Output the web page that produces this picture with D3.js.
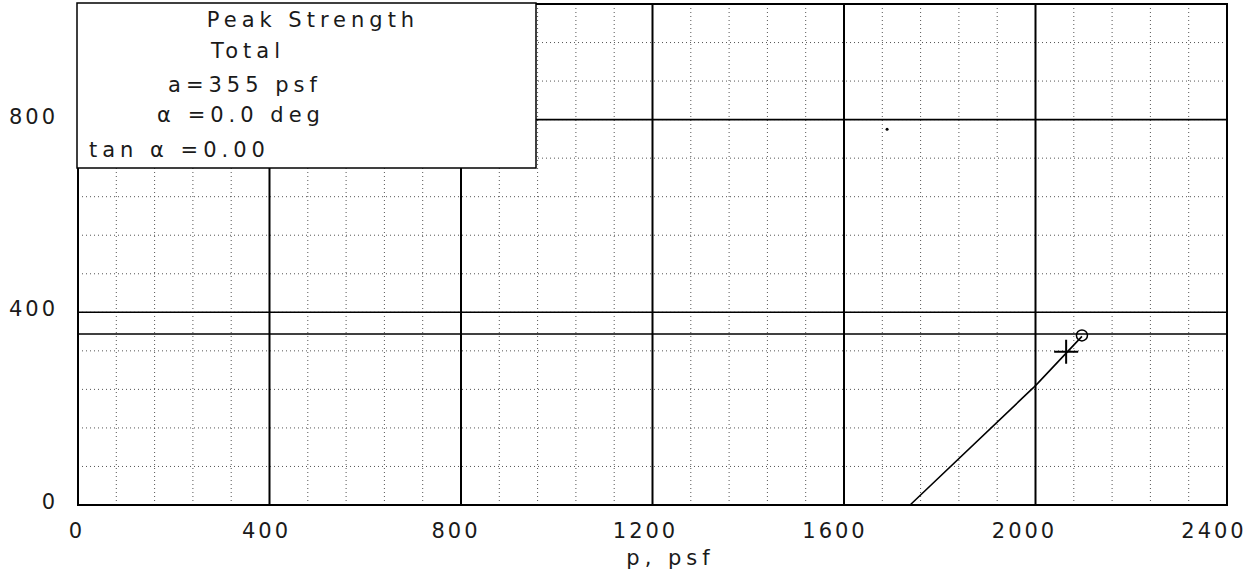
<!DOCTYPE html>
<html>
<head>
<meta charset="utf-8">
<script src="https://cdn.jsdelivr.net/npm/d3@7"></script>
<style>
  body { margin: 0; background: #fff; }
  text { font-family: "DejaVu Sans", sans-serif; fill: #1a1a1a; }
</style>
</head>
<body>
<div id="chart"></div>
<script>
// data
var xTicks = [0, 400, 800, 1200, 1600, 2000, 2400];
var yTicks = [0, 400, 800];
var majorX = [400, 800, 1200, 1600, 2000];
var majorY = [400, 800];
var envelopeQ = 355;                       // a = 355 psf, alpha = 0
var pathP = [1738, 1995, 2005, 2097];      // stress path
var pathQ = [0, 243, 253, 350];
var crossPt = [2064, 318];
var circlePt = [2097, 352];
var strayDot = [1690, 780];
var legendLines = ["Peak Strength", "Total", "a=355 psf", "α =0.0 deg", "tan α =0.00"];

// set the dimensions of the graph
var W = 1257, H = 583;
var margin = {top: 4, right: 30, bottom: 78, left: 78},
    width = W - margin.left - margin.right,
    height = H - margin.top - margin.bottom;

var svg = d3.select("#chart")
  .append("svg")
    .attr("width", W)
    .attr("height", H)
  .append("g")
    .attr("transform", "translate(" + margin.left + "," + margin.top + ")");

var x = d3.scaleLinear().domain([0, 2400]).range([0, width]);
var y = d3.scaleLinear().domain([0, 1040]).range([height, 0]);

// dotted minor grid every 80
var minor = d3.range(80, 2400, 80);
var minorY = d3.range(80, 1040, 80);
svg.append("g")
  .selectAll("line").data(minor).enter().append("line")
    .attr("x1", function(d) { return x(d); })
    .attr("x2", function(d) { return x(d); })
    .attr("y1", 0).attr("y2", height)
    .attr("stroke", "#555").attr("stroke-width", 1)
    .attr("stroke-dasharray", "1,3");
svg.append("g")
  .selectAll("line").data(minorY).enter().append("line")
    .attr("x1", 0).attr("x2", width)
    .attr("y1", function(d) { return y(d); })
    .attr("y2", function(d) { return y(d); })
    .attr("stroke", "#555").attr("stroke-width", 1)
    .attr("stroke-dasharray", "1,3");

// major solid lines
svg.append("g")
  .selectAll("line").data(majorX).enter().append("line")
    .attr("x1", function(d) { return x(d); })
    .attr("x2", function(d) { return x(d); })
    .attr("y1", 0).attr("y2", height)
    .attr("stroke", "#000").attr("stroke-width", 2);
svg.append("g")
  .selectAll("line").data(majorY.concat([envelopeQ])).enter().append("line")
    .attr("x1", 0).attr("x2", width)
    .attr("y1", function(d) { return y(d); })
    .attr("y2", function(d) { return y(d); })
    .attr("stroke", "#000").attr("stroke-width", 1.6);

// stress path
var pts = pathP.map(function(p, i) { return [p, pathQ[i]]; });
svg.append("path")
  .datum(pts)
  .attr("fill", "none")
  .attr("stroke", "#000")
  .attr("stroke-width", 1.6)
  .attr("d", d3.line().x(function(d) { return x(d[0]); }).y(function(d) { return y(d[1]); }));

// + marker
var cx = x(crossPt[0]), cy = y(crossPt[1]);
svg.append("path")
  .attr("d", "M" + (cx - 12) + "," + cy + "H" + (cx + 12) + "M" + cx + "," + (cy - 12) + "V" + (cy + 12))
  .attr("stroke", "#000").attr("stroke-width", 2);

// o marker
svg.append("circle")
  .attr("cx", x(circlePt[0])).attr("cy", y(circlePt[1])).attr("r", 5.5)
  .attr("fill", "none").attr("stroke", "#000").attr("stroke-width", 1.5);

svg.append("circle")
  .attr("cx", x(strayDot[0])).attr("cy", y(strayDot[1])).attr("r", 1.5)
  .attr("fill", "#000");

// frame
svg.append("rect")
  .attr("x", 0).attr("y", 0).attr("width", width).attr("height", height)
  .attr("fill", "none").attr("stroke", "#000").attr("stroke-width", 2);

// tick labels (plotter drew them a little left of the ticks)
svg.append("g")
  .selectAll("text").data(xTicks).enter().append("text")
    .attr("x", function(d) { return x(d) - 1 - d / 2400 * 12; })
    .attr("y", height + 33)
    .attr("text-anchor", "middle")
    .style("font-size", "21px").style("letter-spacing", "3px")
    .text(function(d) { return d; });
svg.append("g")
  .selectAll("text").data(yTicks).enter().append("text")
    .attr("x", -20)
    .attr("y", function(d) { return y(d) + 4; })
    .attr("text-anchor", "end")
    .style("font-size", "21px").style("letter-spacing", "3px")
    .text(function(d) { return d; });

svg.append("text")
  .attr("x", x(1200) + 18)
  .attr("y", height + 60)
  .attr("text-anchor", "middle")
  .style("font-size", "21px").style("letter-spacing", "5px")
  .text("p, psf");

// legend box
var lg = svg.append("g").attr("transform", "translate(-1,-1)");
lg.append("rect")
  .attr("x", 0).attr("y", 0).attr("width", 459).attr("height", 165)
  .attr("fill", "#fff").attr("stroke", "#000").attr("stroke-width", 1.5);
var lx = [236, 171, 168, 164, 12];
var ly = [24, 55, 89, 119, 154];
lg.selectAll("text.leg").data(legendLines).enter().append("text")
  .attr("class", "leg")
  .attr("x", function(d, i) { return lx[i]; })
  .attr("y", function(d, i) { return ly[i]; })
  .attr("text-anchor", function(d, i) { return i == 4 ? "start" : "middle"; })
  .style("font-size", "21px").style("letter-spacing", "5px")
  .text(function(d) { return d; });
</script>
</body>
</html>
